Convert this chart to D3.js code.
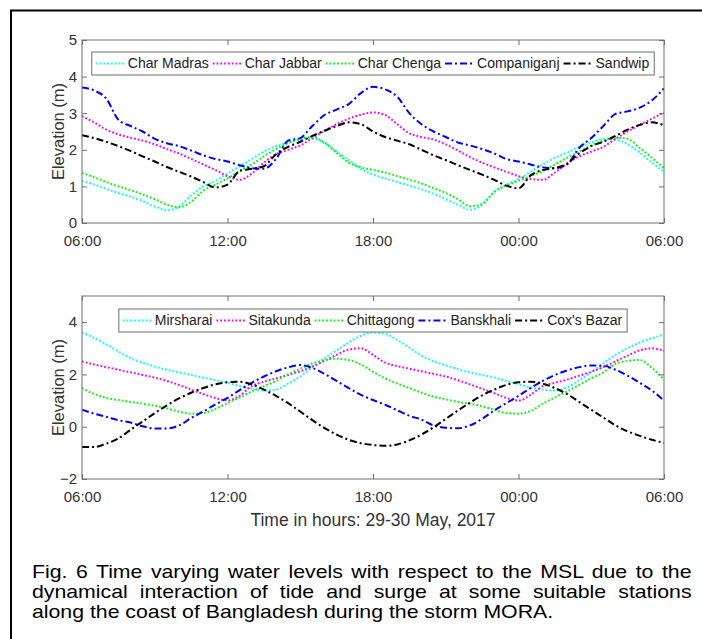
<!DOCTYPE html>
<html>
<head>
<meta charset="utf-8">
<script src="https://cdn.jsdelivr.net/npm/d3@7"></script>
<style>
  body { margin: 0; background: #fff; }
  #wrap { position: relative; width: 702px; height: 639px; overflow: hidden; }
  svg { position: absolute; left: 0; top: 0; }
  .cap { position: absolute; left: 32px; width: 574px; font-family: "Liberation Sans", Arial, sans-serif;
         font-size: 18.5px; line-height: 20px; color: #000; white-space: nowrap;
         transform: scaleX(1.149); transform-origin: 0 0; }
  .just { text-align: justify; text-align-last: justify; white-space: normal; }
</style>
</head>
<body>
<div id="wrap">
  <svg id="chart" width="702" height="639"></svg>
  <div class="cap just" style="top:562px">Fig. 6 Time varying water levels with respect to the MSL due to the</div>
  <div class="cap just" style="top:582px">dynamical interaction of tide and surge at some suitable stations</div>
  <div class="cap" style="top:602px">along the coast of Bangladesh during the storm MORA.</div>
</div>
<script>
// hours after 06:00, 29 May
const hours = [0, 0.5, 1, 1.5, 2, 2.5, 3, 3.5, 4, 4.5, 5, 5.5, 6, 6.5, 7, 7.5, 8, 8.5, 9, 9.5,
    10, 10.5, 11, 11.5, 12, 12.5, 13, 13.5, 14, 14.5, 15, 15.5, 16, 16.5, 17, 17.5, 18, 18.5, 19, 19.5,
    20, 20.5, 21, 21.5, 22, 22.5, 23, 23.5, 24];
const tickHours = [0, 6, 12, 18, 24];
const tickLabels = ["06:00", "12:00", "18:00", "00:00", "06:00"];

// top panel
const charMadras = [1.15, 1.05, 0.93, 0.82, 0.72, 0.60, 0.45, 0.35, 0.45, 0.75, 1.00, 1.15, 1.35, 1.55, 1.75, 1.95, 2.10, 2.20, 2.28, 2.30,
    2.18, 1.95, 1.72, 1.48, 1.32, 1.22, 1.12, 1.02, 0.92, 0.80, 0.65, 0.50, 0.36, 0.50, 0.85, 1.05, 1.20, 1.40, 1.60, 1.78,
    1.92, 2.08, 2.20, 2.30, 2.28, 2.15, 1.92, 1.65, 1.40];
const charJabbar = [2.92, 2.75, 2.55, 2.42, 2.33, 2.25, 2.15, 2.02, 1.90, 1.75, 1.60, 1.45, 1.28, 1.18, 1.35, 1.65, 1.88, 2.00, 2.12, 2.32,
    2.52, 2.70, 2.85, 2.96, 3.02, 2.95, 2.70, 2.45, 2.35, 2.28, 2.15, 1.98, 1.80, 1.65, 1.52, 1.40, 1.28, 1.20, 1.18, 1.38,
    1.62, 1.82, 1.95, 2.08, 2.30, 2.50, 2.68, 2.85, 3.02];
const charChenga = [1.37, 1.25, 1.12, 1.00, 0.90, 0.78, 0.65, 0.50, 0.43, 0.58, 0.88, 1.05, 1.22, 1.42, 1.60, 1.82, 2.02, 2.18, 2.30, 2.35,
    2.20, 1.92, 1.65, 1.52, 1.45, 1.38, 1.28, 1.18, 1.08, 0.95, 0.82, 0.65, 0.46, 0.52, 0.85, 1.02, 1.15, 1.28, 1.42, 1.60,
    1.78, 1.95, 2.12, 2.25, 2.33, 2.30, 2.05, 1.78, 1.50];
const companiganj = [3.70, 3.62, 3.40, 2.82, 2.65, 2.50, 2.30, 2.18, 2.10, 1.98, 1.85, 1.75, 1.68, 1.58, 1.50, 1.48, 1.75, 2.25, 2.32, 2.65,
    2.95, 3.10, 3.25, 3.55, 3.72, 3.65, 3.45, 3.00, 2.70, 2.50, 2.35, 2.20, 2.12, 2.02, 1.90, 1.75, 1.68, 1.60, 1.52, 1.50,
    1.60, 2.05, 2.32, 2.65, 2.98, 3.05, 3.15, 3.35, 3.68];
const sandwip = [2.40, 2.32, 2.22, 2.10, 1.97, 1.82, 1.68, 1.53, 1.40, 1.27, 1.12, 0.97, 1.05, 1.42, 1.48, 1.55, 1.88, 2.08, 2.22, 2.38,
    2.52, 2.65, 2.75, 2.70, 2.50, 2.35, 2.25, 2.15, 2.00, 1.85, 1.72, 1.58, 1.45, 1.32, 1.18, 1.02, 0.95, 1.30, 1.45, 1.50,
    1.62, 1.90, 2.10, 2.22, 2.38, 2.55, 2.68, 2.75, 2.67];

// bottom panel
const mirsharai = [3.60, 3.40, 3.15, 2.88, 2.62, 2.45, 2.30, 2.18, 2.08, 1.98, 1.88, 1.78, 1.68, 1.55, 1.45, 1.38, 1.42, 1.65, 1.92, 2.28,
    2.62, 2.92, 3.22, 3.48, 3.60, 3.55, 3.32, 3.02, 2.72, 2.50, 2.35, 2.20, 2.08, 1.98, 1.88, 1.75, 1.62, 1.50, 1.42, 1.38,
    1.50, 1.78, 2.08, 2.42, 2.75, 3.00, 3.22, 3.38, 3.52];
const sitakunda = [2.50, 2.38, 2.28, 2.18, 2.08, 1.98, 1.88, 1.75, 1.60, 1.42, 1.25, 1.10, 1.00, 1.18, 1.55, 1.72, 1.85, 1.98, 2.12, 2.30,
    2.52, 2.75, 2.95, 3.00, 2.75, 2.45, 2.32, 2.22, 2.12, 2.02, 1.92, 1.78, 1.62, 1.45, 1.28, 1.10, 1.00, 1.22, 1.55, 1.68,
    1.80, 1.95, 2.10, 2.28, 2.50, 2.72, 2.92, 3.00, 2.90];
const chittagong = [1.48, 1.25, 1.10, 1.02, 0.95, 0.88, 0.80, 0.70, 0.58, 0.50, 0.52, 0.68, 0.90, 1.12, 1.35, 1.55, 1.75, 2.00, 2.22, 2.42,
    2.55, 2.60, 2.55, 2.38, 2.10, 1.85, 1.65, 1.48, 1.30, 1.15, 1.05, 0.95, 0.88, 0.78, 0.65, 0.52, 0.50, 0.60, 0.88, 1.12,
    1.35, 1.60, 1.85, 2.08, 2.40, 2.52, 2.55, 2.25, 1.80];
const banskhali = [0.65, 0.50, 0.38, 0.25, 0.16, 0.02, -0.07, -0.07, 0.05, 0.33, 0.58, 0.85, 1.10, 1.40, 1.68, 1.92, 2.12, 2.27, 2.36, 2.25,
    2.02, 1.75, 1.48, 1.22, 1.02, 0.84, 0.63, 0.42, 0.27, 0.05, -0.04, -0.06, 0.05, 0.30, 0.62, 0.90, 1.18, 1.48, 1.75, 1.98,
    2.15, 2.28, 2.34, 2.33, 2.18, 1.95, 1.68, 1.38, 1.00];
const coxsBazar = [-0.78, -0.78, -0.65, -0.45, -0.12, 0.20, 0.52, 0.82, 1.08, 1.30, 1.48, 1.62, 1.70, 1.72, 1.62, 1.42, 1.18, 0.90, 0.58, 0.25,
    -0.05, -0.30, -0.50, -0.63, -0.70, -0.73, -0.68, -0.52, -0.30, -0.02, 0.30, 0.62, 0.92, 1.20, 1.42, 1.60, 1.70, 1.72, 1.65, 1.48,
    1.25, 0.95, 0.65, 0.35, 0.05, -0.18, -0.35, -0.50, -0.62];

const topNames = ["Char Madras", "Char Jabbar", "Char Chenga", "Companiganj", "Sandwip"];
const topValues = [charMadras, charJabbar, charChenga, companiganj, sandwip];
const bottomNames = ["Mirsharai", "Sitakunda", "Chittagong", "Banskhali", "Cox's Bazar"];
const bottomValues = [mirsharai, sitakunda, chittagong, banskhali, coxsBazar];
const topTicks = [0, 1, 2, 3, 4, 5];
const bottomTicks = [-2, 0, 2, 4];

const colors = ["#00ffff", "#ff00ff", "#00ff00", "#0000ff", "#000000"];
const dashes = ["1.8,2", "1.8,2", "1.8,2", "7,3,2,3", "7,3,2,3"];
const font = "'Liberation Sans', Arial, sans-serif";
const axisColor = "#6e6e6e";
const textColor = "#333";

const svg = d3.select("#chart");

// outer frame
svg.append("rect")
    .attr("x", 11).attr("y", 10.5)
    .attr("width", 720).attr("height", 660)
    .attr("fill", "none").attr("stroke", "#000").attr("stroke-width", 2);

const left = 82, right = 664;
const x = d3.scaleLinear().domain([0, 24]).range([left, right]);

const drawPanel = (top, bottom, yDomain, yTicks, names, values, legendTop, id) => {
    const y = d3.scaleLinear().domain(yDomain).range([bottom, top]);
    const g = svg.append("g");

    g.append("clipPath").attr("id", id)
        .append("rect")
        .attr("x", left).attr("y", top)
        .attr("width", right - left).attr("height", bottom - top);

    const line = d3.line()
        .x((d, i) => x(hours[i]))
        .y(d => y(d))
        .curve(d3.curveMonotoneX);

    g.append("g").attr("clip-path", `url(#${id})`)
        .selectAll("path")
        .data(values)
        .enter()
        .append("path")
        .attr("d", line)
        .attr("fill", "none")
        .attr("stroke", (d, i) => colors[i])
        .attr("stroke-width", 2)
        .attr("stroke-dasharray", (d, i) => dashes[i]);

    // axes with inward ticks on all four sides
    const styleAxis = sel => {
        sel.select(".domain").remove();
        sel.selectAll("line").attr("stroke", axisColor);
        sel.selectAll("text").attr("fill", textColor).style("font-family", font).style("font-size", "15px");
    };

    g.append("g").attr("transform", `translate(${left},0)`)
        .call(d3.axisLeft(y).tickValues(yTicks).tickSize(-5).tickPadding(5).tickFormat(d3.format("d")))
        .call(styleAxis);
    g.append("g").attr("transform", `translate(${right},0)`)
        .call(d3.axisRight(y).tickValues(yTicks).tickSize(-5).tickFormat(""))
        .call(styleAxis);
    g.append("g").attr("transform", `translate(0,${bottom})`)
        .call(d3.axisBottom(x).tickValues(tickHours).tickSize(-5).tickPadding(12.5)
            .tickFormat((d, i) => tickLabels[i]))
        .call(styleAxis);
    g.append("g").attr("transform", `translate(0,${top})`)
        .call(d3.axisTop(x).tickValues(tickHours).tickSize(-5).tickFormat(""))
        .call(styleAxis);

    g.append("rect")
        .attr("x", left).attr("y", top)
        .attr("width", right - left).attr("height", bottom - top)
        .attr("fill", "none").attr("stroke", axisColor).attr("stroke-width", 1);

    g.append("text")
        .attr("transform", `translate(58,${(top + bottom) / 2}) rotate(-90)`)
        .attr("text-anchor", "middle")
        .attr("dy", "0.35em")
        .attr("fill", textColor)
        .style("font-family", font).style("font-size", "16.5px")
        .text("Elevation (m)");

    // legend
    const legend = g.append("g");
    const box = legend.append("rect")
        .attr("y", legendTop).attr("height", 23)
        .attr("fill", "#fff").attr("stroke", axisColor).attr("stroke-width", 1);
    const cy = legendTop + 11.5;
    let pos = 4;
    names.forEach((name, i) => {
        legend.append("line")
            .attr("x1", pos).attr("x2", pos + 29)
            .attr("y1", cy).attr("y2", cy)
            .attr("stroke", colors[i]).attr("stroke-width", 2)
            .attr("stroke-dasharray", dashes[i]);
        const t = legend.append("text")
            .attr("x", pos + 32).attr("y", cy)
            .attr("dy", "0.35em")
            .attr("fill", "#222")
            .style("font-family", font).style("font-size", "14px")
            .text(name);
        pos += 32 + t.node().getComputedTextLength() + 4;
    });
    const w = pos + 1;
    const x0 = (left + right) / 2 - w / 2;
    box.attr("x", 0).attr("width", w);
    legend.attr("transform", `translate(${x0},0)`);
};

drawPanel(40, 223, [0, 5], topTicks, topNames, topValues, 52, "clipTop");
drawPanel(296, 479, [-2, 5], bottomTicks, bottomNames, bottomValues, 309, "clipBottom");

svg.append("text")
    .attr("x", (left + right) / 2).attr("y", 520)
    .attr("text-anchor", "middle")
    .attr("dy", "0.35em")
    .attr("fill", textColor)
    .style("font-family", font).style("font-size", "17.5px")
    .text("Time in hours: 29-30 May, 2017");
</script>
</body>
</html>
